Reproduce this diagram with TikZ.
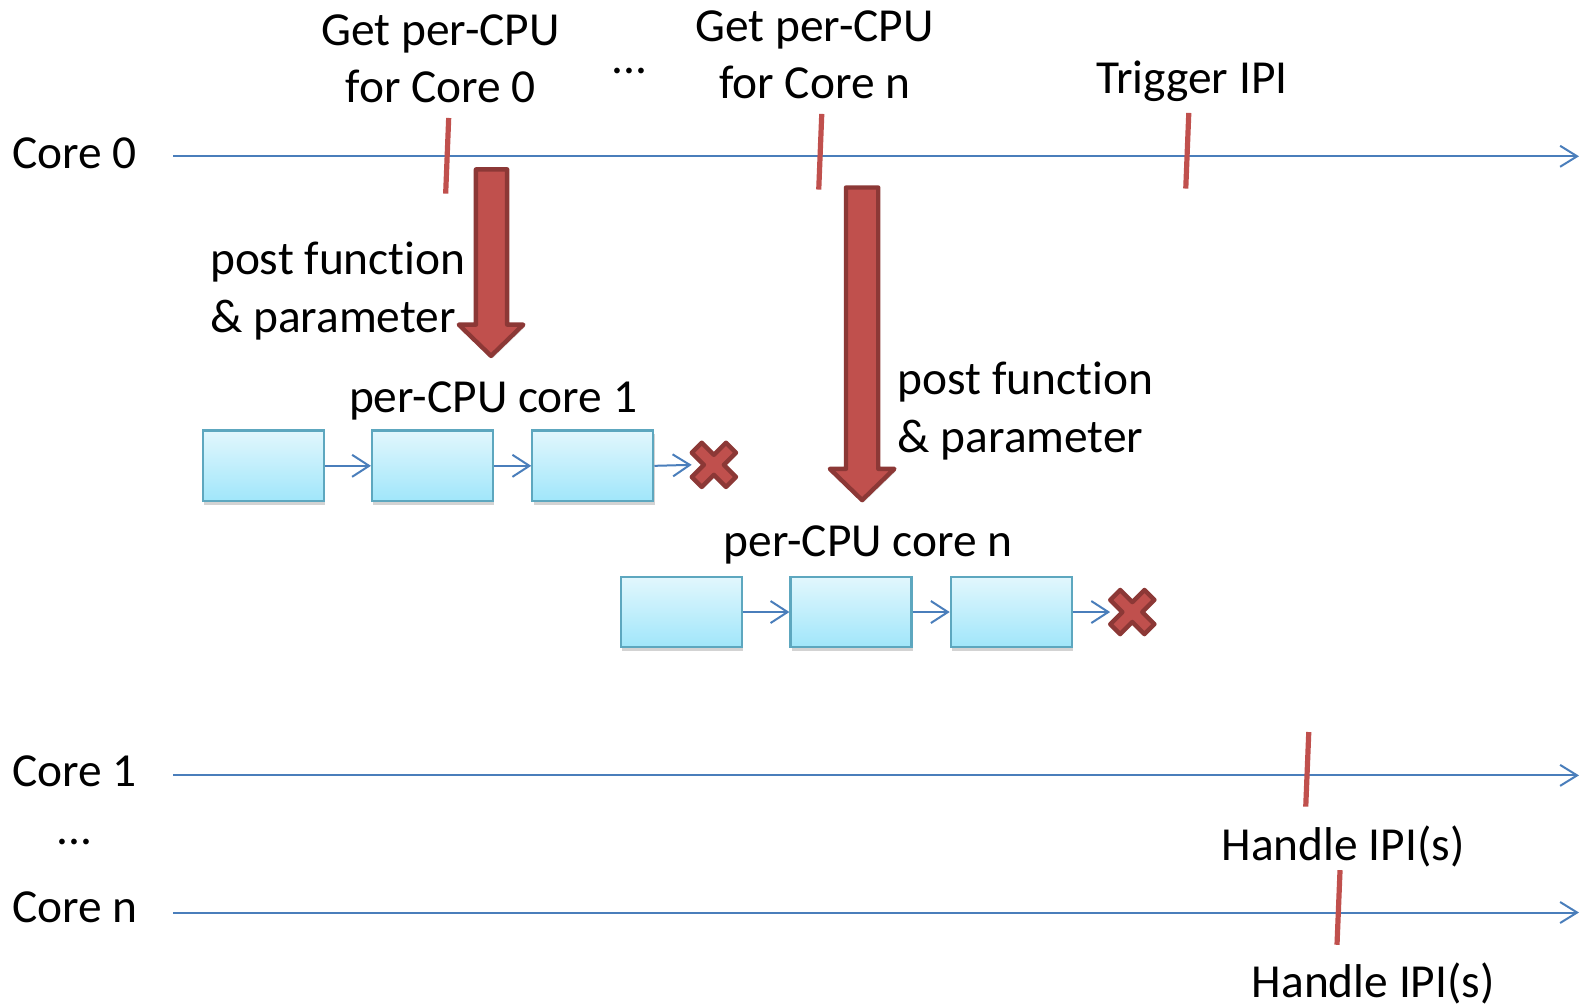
\documentclass[tikz,border=0pt]{standalone}
\usepackage{fontspec}
\setmainfont{Carlito}[Ligatures=CommonOff]
\usetikzlibrary{arrows.meta,shadows}
\definecolor{lineblue}{HTML}{4A7EBB}
\definecolor{tickred}{HTML}{C0504D}
\definecolor{fatfill}{HTML}{C0504D}
\definecolor{fatedge}{HTML}{8C3836}
\definecolor{boxtop}{HTML}{E2F7FD}
\definecolor{boxbot}{HTML}{A0E6FA}
\definecolor{boxedge}{HTML}{5DA7BF}
% "function" set without the t-i ligature
\newcommand{\fnword}{funct\kern0pt ion}
\begin{document}
\begin{tikzpicture}[x=0.50415pt,y=-0.50415pt,
  txt/.style={font=\fontsize{23.7}{28.5}\selectfont, inner sep=0pt, anchor=base},
  txtw/.style={txt, anchor=base west},
  timeline/.style={draw=lineblue, line width=1pt, -{Straight Barb[length=8.5pt,width=10.5pt,line width=1pt]}},
  link/.style={draw=lineblue, line width=1pt, -{Straight Barb[length=8.5pt,width=11pt,line width=1pt]}},
  tickmark/.style={draw=tickred, line width=2.6pt},
  cell/.style={draw=boxedge, line width=1.1pt, top color=boxtop, bottom color=boxbot,
    minimum width=60.5pt, minimum height=35.3pt, inner sep=0pt,
    drop shadow={opacity=0.35, shadow xshift=0.6pt, shadow yshift=-1.8pt}},
  fat/.style={fill=fatfill, draw=fatedge, line width=2.2pt, line join=round,
    drop shadow={opacity=0.2, shadow xshift=0.8pt, shadow yshift=-1.2pt}},
  nullmark/.style={fill=fatfill, draw=fatedge, line width=2.2pt, line join=round}
]
\useasboundingbox (0,0) rectangle (1568,998);

% time lines of the cores
\coordinate (c0s) at (172,155);  \coordinate (c0e) at (1566,155);
\coordinate (c1s) at (172,769);  \coordinate (c1e) at (1566,769);
\coordinate (cns) at (172,905);  \coordinate (cne) at (1566,905);
\draw[timeline] (c0s) -- (c0e);
\draw[timeline] (c1s) -- (c1e);
\draw[timeline] (cns) -- (cne);

\node[txtw] (l0) at (12,167) {Core 0};
\node[txtw] (l1) at (12,780) {Core 1};
\node[txt] (ldots) at (74,838) {...};
\node[txtw] (ln) at (12,915) {Core n};

% event marks
\coordinate (t1a) at (445,117); \coordinate (t1b) at (442,192);
\coordinate (t2a) at (815,113); \coordinate (t2b) at (812,188);
\coordinate (t3a) at (1179,112); \coordinate (t3b) at (1176,187);
\coordinate (t4a) at (1298,726); \coordinate (t4b) at (1295,800);
\coordinate (t5a) at (1329,863); \coordinate (t5b) at (1326,937);
\draw[tickmark] (t1a) -- (t1b);
\draw[tickmark] (t2a) -- (t2b);
\draw[tickmark] (t3a) -- (t3b);
\draw[tickmark] (t4a) -- (t4b);
\draw[tickmark] (t5a) -- (t5b);

\node[txt] (g0a) at (437,45) {Get per-CPU};
\node[txt] (g0b) at (437,102) {for Core 0};
\node[txt] (gdots) at (624,73) {...};
\node[txt] (gna) at (808,41) {Get per-CPU};
\node[txt] (gnb) at (808,98) {for Core n};
\node[txt] (trig) at (1182,93) {Trigger IPI};
\node[txt] (h1) at (1332,853) {Handle IPI(s)};
\node[txt] (h2) at (1362,989) {Handle IPI(s)};

% posting arrows
\path[fat] (472,168) -- (503,168) -- (503,322) -- (519,322) -- (487,353)
  -- (455,322) -- (472,322) -- cycle;
\path[fat] (839,186) -- (871,186) -- (871,465) -- (887,465) -- (855,496)
  -- (823,465) -- (839,465) -- cycle;

\node[txtw] (p1a) at (208,272) {post \fnword};
\node[txtw] (p1b) at (208,330) {\& parameter};
\node[txtw] (p2a) at (890,391) {post \fnword};
\node[txtw] (p2b) at (890,449) {\& parameter};

% per-CPU list of core 1
\node[txt] (q1) at (489,409) {per-CPU core 1};
\node[cell] (a1) at (261,462) {};
\node[cell] (a2) at (429,462) {};
\node[cell] (a3) at (588,462) {};
\coordinate (x1w) at (686,461);
\draw[link] (a1.east) -- (a2.west);
\draw[link] (a2.east) -- (a3.west);
\draw[link] (a3.east) -- (x1w);
\begin{scope}[shift={(708,461)}, rotate=45]
  \path[nullmark] (7,24) -- (7,7) -- (24,7) -- (24,-7) -- (7,-7) -- (7,-24)
    -- (-7,-24) -- (-7,-7) -- (-24,-7) -- (-24,7) -- (-7,7) -- (-7,24) -- cycle;
\end{scope}

% per-CPU list of core n
\node[txt] (qn) at (861,552) {per-CPU core n};
\node[cell] (b1) at (676,607) {};
\node[cell] (b2) at (844,607) {};
\node[cell] (b3) at (1003,607) {};
\coordinate (xnw) at (1101,607);
\draw[link] (b1.east) -- (b2.west);
\draw[link] (b2.east) -- (b3.west);
\draw[link] (b3.east) -- (xnw);
\begin{scope}[shift={(1123,607)}, rotate=45]
  \path[nullmark] (7,24) -- (7,7) -- (24,7) -- (24,-7) -- (7,-7) -- (7,-24)
    -- (-7,-24) -- (-7,-7) -- (-24,-7) -- (-24,7) -- (-7,7) -- (-7,24) -- cycle;
\end{scope}
\end{tikzpicture}
\end{document}
